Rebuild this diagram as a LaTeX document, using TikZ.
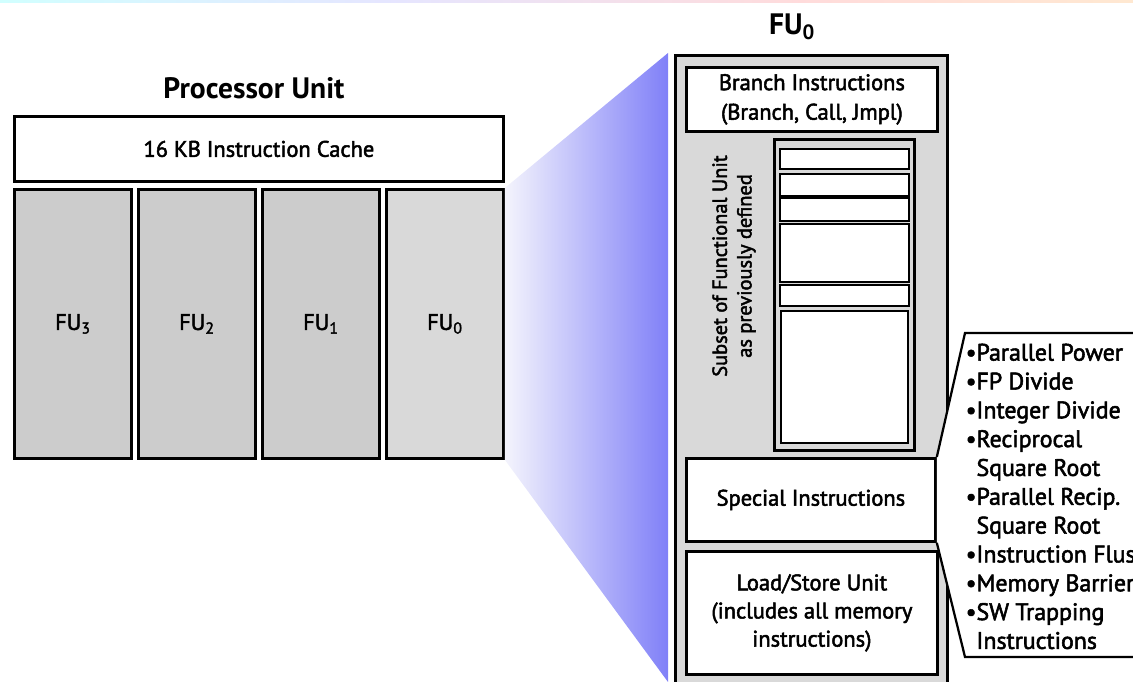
\documentclass[tikz,border=0pt]{standalone}
\usepackage{fontspec}
\setmainfont{PT Sans}
\newfontfamily\unitfont{PT Sans}[FakeBold=2.2]

\definecolor{fugray}{HTML}{CCCCCC}
\definecolor{fulight}{HTML}{D9D9D9}
\definecolor{zoomblue}{HTML}{8080F8}
\definecolor{zoompale}{HTML}{F4F4FC}

\newcommand{\pxl}{0.025cm}
\newcommand{\boxfont}{\unitfont\fontsize{16}{21}\selectfont}
\newcommand{\headfont}{\bfseries\fontsize{21}{24}\selectfont}

\tikzset{
  unitbox/.style={draw, line width=2pt, inner sep=0pt, anchor=north west, align=center, font=\boxfont},
  slotbox/.style={draw, fill=white, line width=1.6pt, inner sep=0pt, anchor=north west},
}

\begin{document}
\begin{tikzpicture}[x=0.025cm, y=-0.025cm, line width=1pt]

\useasboundingbox (0,0) rectangle (1133,682);
\clip (0,0) rectangle (1133,682);

% slide strip
\shade[left color=cyan!18, right color=blue!10] (0,0) rectangle (390,3);
\shade[left color=blue!10, right color=red!14] (390,0) rectangle (800,3);
\shade[left color=red!14, right color=orange!18] (800,0) rectangle (1133,3);

% processor unit
\node [font=\headfont] (proctitle) at (254,88) {Processor Unit};
\node [unitbox, fill=white, minimum width=489*\pxl, minimum height=65*\pxl] (cache) at (13,115) {16 KB Instruction Cache};

\foreach \i/\x/\c in {3/13/fugray, 2/137/fugray, 1/261/fugray, 0/385/fulight}
  \node [unitbox, fill=\c, minimum width=117*\pxl, minimum height=269*\pxl] (fu\i) at (\x,188) {FU\textsubscript{\i}};

% zoom wedge
\shade [left color=zoompale, right color=zoomblue] (fu0.north east) -- (668,53) -- (668,682) -- (fu0.south east) -- cycle;

% FU0 in detail
\node [font=\headfont] (fuzerotitle) at (792,27) {FU\textsubscript{0}};
\node [unitbox, fill=fulight, minimum width=272*\pxl, minimum height=660*\pxl] (fuzero) at (674,54) {};
\node [unitbox, fill=white, minimum width=251*\pxl, minimum height=64*\pxl] (branch) at (685,66) {Branch Instructions\\(Branch, Call, Jmpl)};

\node [unitbox, fill=fulight, minimum width=140*\pxl, minimum height=311*\pxl] (subset) at (773,138) {};
\foreach \n/\y/\h in {1/148/20, 2/173/22, 3/197.2/22.8, 4/223/58, 5/284.2/20.8}
  \node [slotbox, minimum width=129*\pxl, minimum height=\h*\pxl] (slot\n) at (779,\y) {};
\node [slotbox, minimum width=127*\pxl, minimum height=132*\pxl] (slot6) at (780,310) {};
\node [rotate=90, align=center, font=\unitfont\fontsize{14.5}{17.5}\selectfont] (subsetlabel) at (734,266) {Subset of Functional Unit\\as previously defined};

\node [unitbox, fill=white, minimum width=249*\pxl, minimum height=83*\pxl] (special) at (685,457) {Special Instructions};
\node [unitbox, fill=white, minimum width=251*\pxl, minimum height=123*\pxl, font=\unitfont\fontsize{16}{20}\selectfont] (ldst) at (685,550) {Load/Store Unit\\(includes all memory\\instructions)};

% callout of the special instructions
\draw [line width=1.6pt, fill=white] (special.north east) -- (965,333) -- (1150,333) -- (1150,657) -- (965,657) -- (special.south east);
\node [anchor=north west, align=left, inner sep=0pt, font=\unitfont\fontsize{17}{20.5}\selectfont] (speclist) at (965,343)
  {\textbullet Parallel Power\\
   \textbullet FP Divide\\
   \textbullet Integer Divide\\
   \textbullet Reciprocal\\
   \phantom{\textbullet}Square Root\\
   \textbullet Parallel Recip.\\
   \phantom{\textbullet}Square Root\\
   \textbullet Instruction Flush\\
   \textbullet Memory Barrier\\
   \textbullet SW Trapping\\
   \phantom{\textbullet}Instructions};

\end{tikzpicture}
\end{document}
